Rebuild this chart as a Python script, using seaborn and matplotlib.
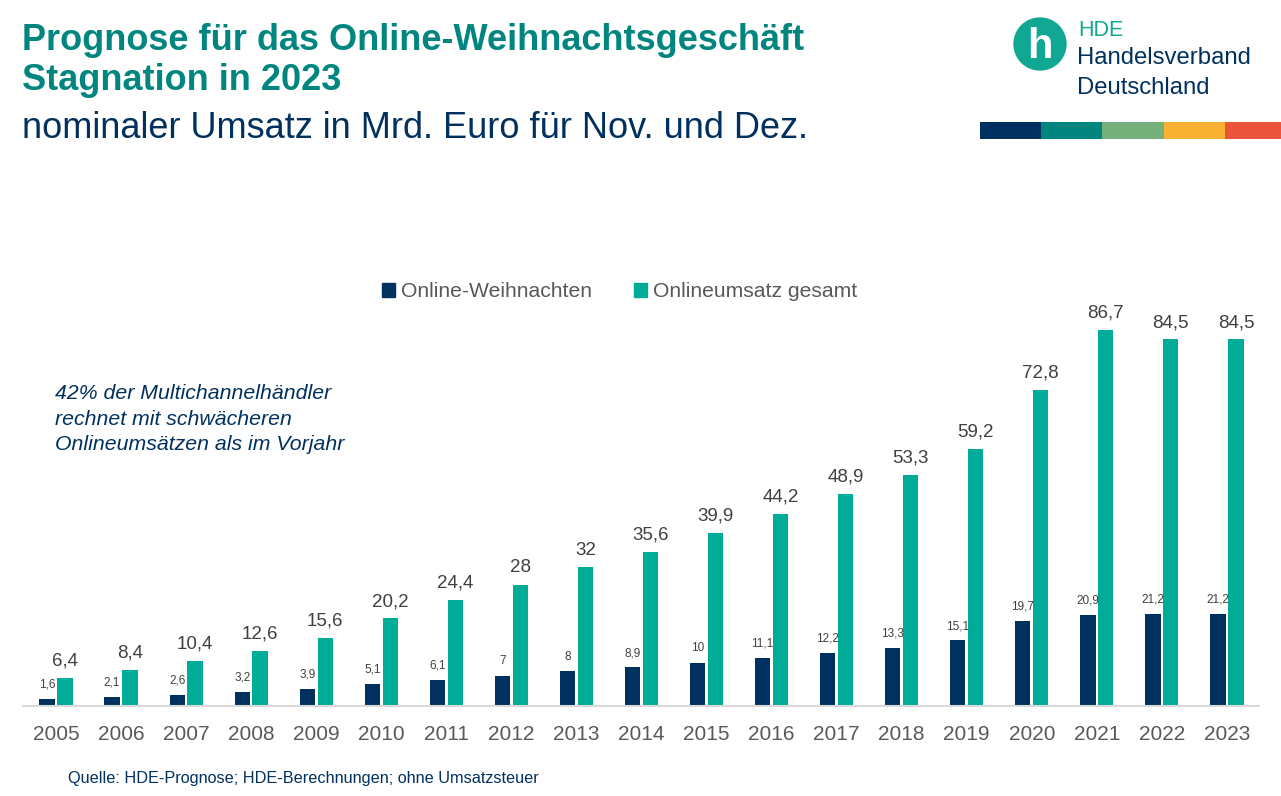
import pandas as pd
import matplotlib.pyplot as plt
import matplotlib.patches as mpatches
import seaborn as sns

# Data
years = [str(y) for y in range(2005, 2024)]
online_weihnachten = [1.6, 2.1, 2.6, 3.2, 3.9, 5.1, 6.1, 7, 8, 8.9, 10, 11.1, 12.2,
                      13.3, 15.1, 19.7, 20.9, 21.2, 21.2]
onlineumsatz_gesamt = [6.4, 8.4, 10.4, 12.6, 15.6, 20.2, 24.4, 28, 32, 35.6, 39.9,
                       44.2, 48.9, 53.3, 59.2, 72.8, 86.7, 84.5, 84.5]
series_names = ["Online-Weihnachten", "Onlineumsatz gesamt"]

NAVY = "#00305E"
GREEN = "#00AC97"
TEAL = "#00857F"
GRAY = "#595959"


def fmt(v):
    return f"{v:g}".replace(".", ",")


def main():
    df = pd.DataFrame({
        "year": years * 2,
        "value": online_weihnachten + onlineumsatz_gesamt,
        "series": [series_names[0]] * len(years) + [series_names[1]] * len(years),
    })

    sns.set_theme(style="white")
    plt.rcParams["font.family"] = ["Liberation Sans", "DejaVu Sans"]

    fig = plt.figure(figsize=(12.81, 7.96), dpi=100)
    ax = fig.add_axes([0.0183, 0.1131, 0.9649, 0.510])

    sns.barplot(
        data=df, x="year", y="value", hue="series",
        palette=[NAVY, GREEN], width=0.55, gap=0.15,
        saturation=1, legend=False, ax=ax, linewidth=0,
    )

    ax.set_ylim(0, 93.6)
    ax.set_xlim(-0.5, len(years) - 0.5)
    ax.set_xlabel("")
    ax.set_ylabel("")
    ax.set_yticks([])
    for side in ["top", "right", "left"]:
        ax.spines[side].set_visible(False)
    ax.spines["bottom"].set_color("#D9D9D9")
    ax.spines["bottom"].set_linewidth(1.5)
    ax.tick_params(axis="x", length=0, pad=14, labelsize=15, labelcolor=GRAY)

    # Value labels
    ax.bar_label(ax.containers[0], labels=[fmt(v) for v in online_weihnachten],
                 padding=6, fontsize=8.5, color="#404040")
    ax.bar_label(ax.containers[1], labels=[fmt(v) for v in onlineumsatz_gesamt],
                 padding=6, fontsize=13.5, color="#404040")

    # Legend
    handles = [mpatches.Patch(color=NAVY), mpatches.Patch(color=GREEN)]
    fig.legend(handles, series_names, loc="center", bbox_to_anchor=(620 / 1281, 1 - 292 / 796),
               ncol=2, frameon=False, fontsize=15.2, labelcolor=GRAY,
               handlelength=0.6, handleheight=0.6, handletextpad=0.3, columnspacing=2.0)

    # Titles
    fig.text(22 / 1281, 1 - 40 / 796, "Prognose für das Online-Weihnachtsgeschäft",
             fontsize=26, fontweight="bold", color=TEAL, va="center")
    fig.text(22 / 1281, 1 - 80 / 796, "Stagnation in 2023",
             fontsize=26, fontweight="bold", color=TEAL, va="center")
    fig.text(22 / 1281, 1 - 128 / 796, "nominaler Umsatz in Mrd. Euro für Nov. und Dez.",
             fontsize=26, color=NAVY, va="center")

    # Annotation
    fig.text(55 / 1281, 1 - 384 / 796,
             "42% der Multichannelhändler\nrechnet mit schwächeren\nOnlineumsätzen als im Vorjahr",
             fontsize=15.3, style="italic", color=NAVY, va="top", linespacing=1.45)

    # Source
    fig.text(68 / 1281, 1 - 779 / 796,
             "Quelle: HDE-Prognose; HDE-Berechnungen; ohne Umsatzsteuer",
             fontsize=11.7, color=NAVY, va="center")

    # Logo
    logo = fig.add_axes([0, 0, 1, 1], facecolor="none")
    logo.set_xlim(0, 1281)
    logo.set_ylim(796, 0)
    logo.axis("off")
    logo.add_patch(mpatches.Circle((1040, 44), 26, color="#10A893"))
    logo.text(1040, 47, "h", color="white", fontsize=30, fontweight="bold",
              ha="center", va="center")
    logo.text(1078, 30, "HDE", color="#10A893", fontsize=15.5, va="center")
    logo.text(1077, 58, "Handelsverband", color=NAVY, fontsize=17.2, va="center")
    logo.text(1077, 88, "Deutschland", color=NAVY, fontsize=17.2, va="center")
    stripe_colors = [NAVY, TEAL, "#76B07A", "#F8B133", "#EB543A"]
    for i, c in enumerate(stripe_colors):
        logo.add_patch(mpatches.Rectangle((980 + i * 61.2, 122), 61.2, 17, color=c, lw=0))

    fig.savefig("out.png", dpi=100)
    plt.close(fig)


if __name__ == "__main__":
    main()
